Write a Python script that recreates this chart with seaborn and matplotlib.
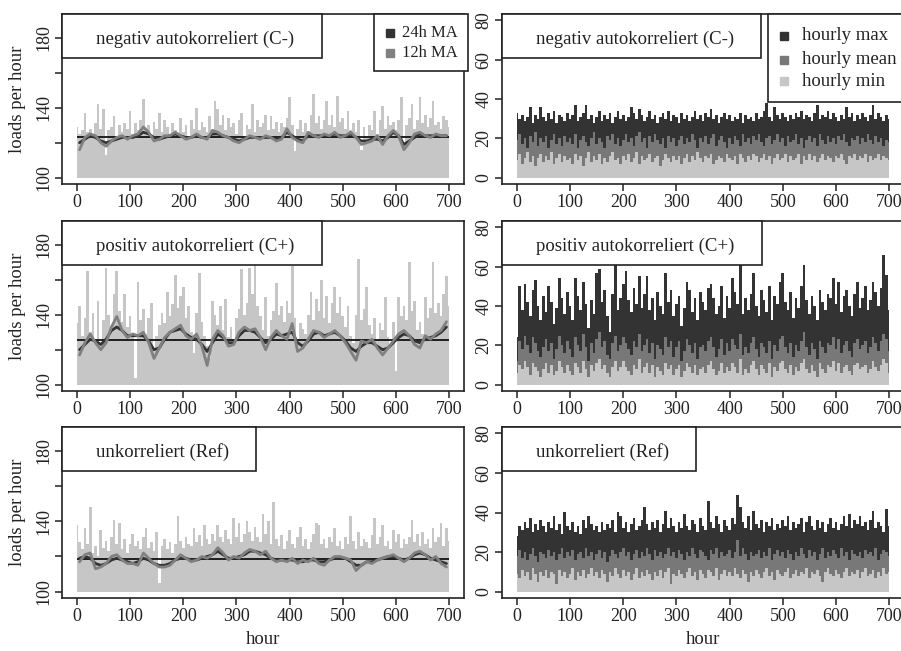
import numpy as np
import pandas as pd
import matplotlib
matplotlib.use("Agg")
import matplotlib.pyplot as plt
import seaborn as sns
from matplotlib.patches import Rectangle
from matplotlib.lines import Line2D

sns.set_style("ticks")
plt.rcParams['font.family'] = ['Liberation Serif', 'DejaVu Serif']

# hour grid of the sampled values (every 5 h) and of the moving averages (every 10 h)
hours = np.arange(0, 701, 5)
ma_hours = np.arange(5, 700, 10)

titles = ["negativ autokorreliert (C-)", "positiv autokorreliert (C+)", "unkorreliert (Ref)"]

# ---- left column: loads per hour, 24h / 12h moving averages, overall mean ----
load_cneg = [129, 125, 127, 137, 126, 128, 124, 131, 142, 128,
             139, 113, 127, 129, 135, 124, 130, 126, 131, 128,
             138, 125, 131, 127, 133, 145, 126, 130, 124, 132,
             128, 137, 126, 133, 129, 125, 131, 127, 124, 134,
             126, 130, 122, 133, 128, 140, 127, 132, 129, 126,
             135, 128, 144, 139, 130, 136, 127, 134, 129, 131,
             125, 133, 137, 124, 130, 128, 142, 126, 133, 129,
             131, 136, 127, 135, 128, 132, 126, 131, 129, 134,
             146, 130, 115, 128, 133, 126, 131, 124, 136, 148,
             131, 135, 128, 133, 144, 130, 136, 129, 147, 132,
             134, 128, 138, 127, 131, 126, 133, 116, 129, 124,
             130, 127, 138, 125, 133, 141, 128, 135, 130, 132,
             127, 133, 146, 120, 130, 134, 142, 128, 133, 146,
             131, 136, 129, 134, 144, 130, 132, 128, 135, 133,
             129]
load_cpos = [135, 145, 128, 138, 165, 130, 141, 126, 148, 124,
             137, 167, 140, 131, 152, 165, 142, 136, 152, 133,
             139, 128, 104, 159, 137, 143, 129, 138, 147, 121,
             128, 134, 141, 135, 153, 139, 146, 163, 144, 151,
             156, 138, 145, 130, 118, 141, 164, 136, 128, 122,
             115, 148, 140, 134, 145, 131, 149, 127, 133, 126,
             138, 143, 166, 140, 147, 167, 152, 170, 145, 139,
             131, 150, 128, 137, 142, 158, 140, 145, 136, 148,
             141, 168, 138, 126, 135, 132, 129, 140, 153, 137,
             149, 142, 160, 138, 151, 135, 147, 156, 141, 150,
             139, 133, 145, 128, 124, 140, 172, 137, 143, 156,
             134, 129, 138, 126, 135, 131, 150, 127, 122, 136,
             108, 150, 139, 145, 137, 170, 142, 148, 131, 136,
             129, 150, 138, 144, 170, 141, 147, 139, 152, 162,
             145]
load_ref = [138, 128, 124, 136, 127, 148, 122, 126, 120, 135,
            125, 129, 123, 131, 141, 127, 139, 124, 130, 122,
            127, 133, 126, 129, 124, 131, 136, 125, 128, 123,
            134, 105, 126, 130, 124, 128, 122, 127, 143, 129,
            125, 131, 127, 126, 136, 128, 132, 126, 138, 130,
            127, 133, 129, 138, 131, 128, 135, 130, 127, 142,
            131, 139, 128, 133, 140, 134, 129, 137, 131, 128,
            144, 133, 140, 127, 151, 130, 126, 132, 124, 129,
            135, 127, 125, 131, 137, 126, 130, 124, 128, 133,
            139, 138, 127, 130, 125, 131, 128, 136, 126, 129,
            124, 131, 127, 143, 129, 124, 134, 126, 130, 128,
            125, 132, 142, 127, 131, 138, 126, 129, 124, 135,
            128, 133, 125, 130, 127, 131, 141, 128, 133, 126,
            134, 127, 130, 125, 136, 128, 131, 139, 126, 136,
            129]

ma24_cneg = [120, 122, 124, 123, 121, 120, 121, 122, 123, 123,
             123, 124, 126, 125, 123, 122, 123, 124, 125, 124,
             123, 123, 124, 123, 123, 125, 125, 124, 123, 122,
             121, 122, 123, 123, 123, 123, 123, 122, 123, 126,
             124, 122, 121, 124, 124, 124, 124, 124, 125, 124,
             124, 125, 123, 121, 121, 122, 122, 121, 123, 126,
             124, 119, 121, 123, 125, 124, 124, 124, 124, 124]
ma12_cneg = [116, 123, 125, 124, 120, 118, 121, 123, 124, 122,
             124, 125, 129, 126, 121, 122, 124, 124, 126, 124,
             122, 123, 125, 123, 122, 127, 126, 124, 123, 121,
             120, 122, 124, 123, 122, 124, 123, 121, 122, 128,
             123, 121, 120, 126, 124, 123, 125, 124, 126, 123,
             124, 126, 123, 119, 120, 121, 124, 119, 124, 127,
             124, 116, 120, 125, 126, 124, 123, 125, 124, 124]
ma24_cpos = [120, 123, 126, 125, 123, 126, 131, 133, 131, 128,
             128, 128, 128, 125, 120, 121, 126, 130, 131, 132,
             129, 127, 126, 123, 119, 124, 129, 127, 124, 124,
             128, 131, 131, 130, 127, 124, 126, 129, 128, 129,
             130, 124, 122, 125, 129, 130, 128, 129, 130, 128,
             125, 121, 119, 122, 124, 124, 122, 120, 121, 124,
             127, 129, 128, 125, 124, 126, 127, 128, 130, 133]
ma12_cpos = [117, 124, 129, 124, 120, 124, 133, 139, 131, 127,
             129, 128, 130, 124, 115, 121, 127, 130, 132, 134,
             128, 126, 129, 122, 111, 126, 131, 128, 122, 123,
             130, 133, 131, 132, 127, 120, 127, 131, 128, 126,
             135, 119, 121, 126, 131, 130, 127, 129, 131, 128,
             124, 119, 114, 125, 124, 126, 121, 117, 121, 125,
             129, 131, 128, 123, 121, 128, 126, 129, 131, 136]
ma24_ref = [119, 120, 119, 116, 115, 116, 118, 119, 118, 117,
            116, 117, 119, 118, 116, 115, 115, 116, 118, 119,
            119, 118, 118, 119, 120, 121, 123, 121, 119, 119,
            120, 121, 123, 123, 122, 121, 119, 118, 118, 118,
            118, 117, 117, 118, 118, 117, 117, 118, 119, 119,
            119, 117, 115, 115, 117, 117, 118, 119, 120, 120,
            119, 118, 119, 121, 122, 121, 119, 118, 117, 116]
ma12_ref = [117, 121, 122, 113, 114, 116, 120, 121, 118, 116,
            116, 115, 122, 119, 116, 114, 114, 115, 118, 121,
            119, 117, 118, 120, 119, 121, 125, 122, 118, 120,
            119, 122, 124, 123, 121, 123, 119, 117, 118, 117,
            119, 116, 118, 117, 119, 116, 115, 118, 120, 120,
            119, 118, 112, 115, 117, 116, 118, 119, 120, 121,
            119, 117, 119, 122, 123, 121, 118, 120, 116, 114]

mean_load = [123.4, 125.8, 118.4]

# ---- right column: hourly max / mean / min ----
max_cneg = [33, 30, 32, 29, 31, 36, 28, 32, 30, 36,
            31, 29, 33, 30, 34, 28, 32, 31, 29, 33,
            30, 32, 37, 29, 31, 33, 37, 30, 32, 28,
            31, 34, 29, 32, 30, 33, 28, 31, 34, 30,
            32, 29, 31, 36, 33, 30, 35, 32, 29, 31,
            34, 30, 32, 28, 31, 33, 30, 34, 29, 32,
            31, 28, 33, 30, 32, 29, 31, 34, 30, 32,
            29, 33, 31, 35, 30, 32, 28, 31, 33, 30,
            32, 29, 31, 30, 33, 28, 32, 30, 31, 29,
            33, 30, 31, 34, 38, 31, 29, 36, 32, 30,
            33, 31, 29, 32, 30, 33, 31, 34, 30, 32,
            31, 29, 33, 37, 30, 32, 31, 34, 30, 33,
            31, 29, 32, 30, 36, 31, 33, 29, 32, 30,
            33, 31, 29, 32, 37, 30, 33, 31, 29, 32,
            30]
mean_cneg = [19, 22, 17, 20, 15, 21, 18, 23, 16, 20,
             18, 21, 15, 19, 22, 17, 20, 16, 21, 18,
             20, 17, 22, 15, 19, 21, 18, 16, 20, 23,
             17, 20, 18, 15, 21, 19, 22, 17, 20, 16,
             19, 22, 18, 20, 16, 21, 23, 18, 20, 15,
             21, 18, 22, 19, 17, 20, 15, 21, 18, 20,
             16, 19, 21, 17, 20, 18, 22, 19, 15, 20,
             18, 21, 17, 20, 22, 16, 19, 21, 18, 15,
             20, 17, 21, 19, 16, 22, 18, 20, 17, 21,
             19, 22, 18, 16, 20, 21, 17, 19, 22, 18,
             20, 16, 21, 18, 19, 22, 17, 20, 15, 19,
             21, 18, 20, 16, 22, 19, 17, 21, 18, 20,
             17, 21, 19, 22, 18, 16, 20, 19, 21, 17,
             20, 18, 22, 19, 17, 21, 18, 20, 16, 19,
             18]
min_cneg = [9, 12, 7, 10, 13, 8, 11, 6, 10, 12,
            8, 11, 9, 13, 7, 10, 12, 8, 11, 9,
            10, 7, 12, 9, 11, 6, 10, 13, 8, 11,
            9, 12, 7, 10, 8, 11, 13, 9, 10, 7,
            11, 9, 12, 8, 10, 13, 7, 11, 9, 10,
            12, 8, 10, 11, 6, 9, 12, 10, 8, 11,
            9, 11, 7, 10, 12, 8, 11, 9, 13, 10,
            8, 11, 10, 12, 7, 9, 11, 10, 8, 12,
            10, 9, 11, 7, 12, 10, 8, 11, 9, 12,
            11, 8, 10, 12, 9, 11, 7, 10, 12, 9,
            10, 12, 8, 11, 9, 10, 12, 7, 11, 9,
            12, 9, 11, 8, 10, 12, 9, 11, 10, 8,
            11, 10, 12, 9, 7, 11, 10, 12, 9, 11,
            10, 12, 8, 11, 9, 10, 12, 9, 11, 10,
            9]

max_cpos = [24, 50, 38, 51, 42, 35, 48, 53, 40, 33,
            45, 37, 50, 42, 31, 39, 54, 44, 36, 47,
            40, 33, 54, 45, 38, 52, 41, 29, 43, 36,
            57, 59, 42, 48, 35, 27, 46, 62, 38, 44,
            51, 58, 43, 37, 49, 41, 55, 39, 46, 55,
            38, 44, 33, 47, 40, 36, 57, 42, 48, 35,
            41, 45, 30, 39, 52, 48, 37, 44, 33, 47,
            42, 38, 49, 51, 44, 36, 40, 50, 34, 45,
            39, 54, 47, 41, 62, 36, 44, 38, 46, 57,
            40, 35, 48, 43, 37, 50, 33, 45, 41, 52,
            57, 42, 38, 47, 34, 44, 39, 50, 61, 43,
            36, 45, 40, 33, 48, 42, 38, 46, 44, 54,
            41, 52, 37, 45, 48, 40, 35, 46, 52, 39,
            44, 50, 38, 43, 52, 47, 40, 49, 66, 56,
            38]
mean_cpos = [12, 22, 18, 25, 20, 16, 24, 21, 17, 14,
             19, 23, 17, 21, 13, 18, 25, 20, 16, 22,
             18, 14, 24, 20, 17, 26, 19, 12, 21, 16,
             23, 27, 19, 22, 15, 13, 21, 25, 17, 20,
             24, 21, 18, 15, 22, 19, 26, 17, 20, 23,
             16, 21, 13, 20, 18, 15, 24, 19, 22, 14,
             19, 22, 12, 17, 23, 20, 16, 21, 13, 19,
             20, 17, 22, 24, 19, 14, 18, 23, 15, 21,
             17, 23, 20, 18, 26, 15, 19, 16, 21, 24,
             18, 14, 21, 19, 16, 22, 13, 20, 17, 23,
             25, 19, 16, 21, 14, 20, 17, 22, 27, 19,
             15, 21, 18, 13, 22, 19, 16, 21, 20, 24,
             18, 23, 16, 20, 22, 17, 14, 21, 23, 18,
             20, 22, 16, 19, 24, 21, 17, 22, 26, 23,
             17]
min_cpos = [6, 10, 8, 12, 9, 5, 11, 9, 7, 4,
            8, 11, 6, 10, 5, 7, 12, 9, 6, 10,
            7, 5, 11, 9, 6, 12, 8, 4, 10, 7,
            11, 13, 8, 10, 6, 4, 9, 12, 7, 9,
            12, 9, 7, 5, 10, 8, 13, 6, 9, 11,
            6, 10, 4, 9, 7, 5, 11, 8, 10, 5,
            8, 10, 4, 7, 11, 9, 6, 10, 5, 8,
            9, 6, 10, 12, 8, 5, 7, 11, 6, 9,
            7, 11, 9, 6, 13, 5, 8, 6, 10, 12,
            8, 5, 10, 8, 6, 11, 4, 9, 7, 11,
            12, 8, 6, 10, 5, 9, 7, 11, 13, 8,
            6, 10, 7, 4, 11, 8, 6, 10, 9, 12,
            7, 11, 6, 9, 10, 7, 5, 10, 11, 8,
            9, 10, 6, 8, 12, 9, 7, 10, 13, 11,
            6]

max_ref = [28, 33, 31, 35, 32, 37, 30, 34, 31, 36,
           33, 30, 35, 32, 38, 31, 34, 29, 40, 33,
           31, 35, 30, 33, 29, 36, 32, 38, 34, 31,
           33, 30, 35, 31, 34, 32, 36, 30, 40, 38,
           32, 35, 30, 34, 37, 31, 33, 36, 43, 34,
           31, 35, 32, 36, 30, 34, 41, 32, 37, 33,
           30, 35, 32, 39, 33, 31, 36, 34, 30, 37,
           33, 31, 46, 35, 32, 38, 34, 30, 36, 33,
           31, 37, 34, 49, 43, 35, 32, 38, 31, 41,
           34, 32, 36, 30, 35, 33, 37, 31, 34, 32,
           36, 33, 38, 31, 35, 32, 34, 37, 30, 35,
           38, 33, 31, 36, 32, 35, 30, 34, 37, 32,
           35, 31, 34, 38, 33, 39, 32, 36, 34, 38,
           33, 35, 31, 36, 41, 32, 35, 33, 30, 42,
           33]
mean_ref = [18, 21, 17, 20, 16, 19, 22, 18, 15, 20,
            19, 17, 21, 18, 20, 16, 19, 22, 17, 20,
            18, 21, 16, 19, 20, 17, 22, 18, 20, 16,
            19, 21, 17, 20, 15, 18, 21, 19, 17, 20,
            22, 18, 20, 16, 19, 21, 17, 20, 18, 22,
            19, 16, 21, 18, 20, 17, 19, 22, 18, 20,
            17, 21, 19, 16, 20, 18, 22, 19, 17, 21,
            20, 18, 16, 21, 19, 22, 17, 20, 18, 19,
            21, 17, 20, 26, 18, 22, 19, 16, 20, 18,
            19, 21, 17, 20, 18, 22, 16, 19, 21, 18,
            20, 17, 21, 19, 16, 20, 18, 22, 19, 17,
            21, 18, 20, 16, 19, 22, 17, 20, 18, 21,
            19, 17, 22, 18, 20, 16, 21, 19, 18, 20,
            17, 21, 19, 20, 18, 22, 16, 19, 21, 20,
            18]
min_ref = [9, 7, 11, 8, 10, 6, 12, 9, 5, 10,
           8, 11, 7, 10, 9, 4, 11, 8, 10, 7,
           9, 12, 6, 10, 8, 11, 7, 9, 12, 8,
           10, 7, 11, 9, 5, 10, 8, 12, 9, 7,
           11, 8, 10, 6, 9, 12, 7, 10, 8, 11,
           9, 6, 10, 8, 11, 7, 10, 12, 4, 9,
           8, 11, 9, 7, 10, 12, 8, 10, 6, 11,
           9, 7, 11, 10, 8, 12, 6, 9, 11, 8,
           10, 8, 12, 9, 7, 11, 9, 5, 10, 8,
           11, 9, 7, 10, 12, 8, 10, 6, 11, 9,
           8, 10, 12, 7, 9, 11, 8, 10, 9, 12,
           7, 10, 9, 11, 8, 5, 10, 12, 9, 8,
           11, 9, 7, 10, 12, 8, 10, 9, 11, 7,
           10, 12, 8, 9, 11, 7, 10, 8, 12, 9,
           10]

LIGHT, MID, DARK = '#c6c6c6', '#787878', '#333333'
W, H = 901, 651

fig = plt.figure(figsize=(W / 100, H / 100), dpi=100)

row_top = [14, 221, 427]
row_bot = [184, 391, 598]
col_x = [(62, 464), (502, 904)]
title_w = [[260, 260, 194], [259, 260, 194]]


def make_axes(col, row):
    x0, x1 = col_x[col]
    return fig.add_axes([x0 / W, 1 - row_bot[row] / H, (x1 - x0) / W,
                         (row_bot[row] - row_top[row]) / H])


def to_ax(col, row, x, y):
    # pixel position in the figure -> axes fraction
    x0, x1 = col_x[col]
    return ((x - x0) / (x1 - x0),
            (row_bot[row] - y) / (row_bot[row] - row_top[row]))


def style(ax):
    for s in ax.spines.values():
        s.set_linewidth(1.2)
        s.set_color('#222222')
    ax.tick_params(direction='out', length=5, width=1.1, labelsize=13,
                   pad=2, colors='#222222')
    ax.set_xlim(-28, 728)
    ax.set_xticks(range(0, 701, 100))
    plt.setp(ax.get_yticklabels(), rotation=90, va='center')
    ax.set_xlabel('')
    ax.set_ylabel('')


def title_box(ax, col, row, text):
    x0 = col_x[col][0]
    top = row_top[row]
    bx, by = to_ax(col, row, x0, top + 44)
    bw = title_w[col][row] / (col_x[col][1] - x0)
    ax.add_patch(Rectangle((bx, by), bw, 1 - by, transform=ax.transAxes,
                           facecolor='white', edgecolor='#222222', lw=1.2,
                           zorder=10, clip_on=False))
    tx, ty = to_ax(col, row, x0 + 34, top + 25)
    ax.text(tx, ty, text, transform=ax.transAxes, fontsize=13.5,
            va='center', ha='left', zorder=11, color='#222222')


def legend_box(ax, col, row, left, bottom, mark_x, text_x, ys, labels,
               colors, fs):
    bx, by = to_ax(col, row, left, bottom)
    ax.add_patch(Rectangle((bx, by), 1 - bx + 0.01, 1 - by,
                           transform=ax.transAxes, facecolor='white',
                           edgecolor='#222222', lw=1.2, zorder=10,
                           clip_on=False))
    for y, lab, c in zip(ys, labels, colors):
        mx, my = to_ax(col, row, mark_x, y)
        ax.add_line(Line2D([mx], [my], marker='s', ms=6, color=c, ls='',
                           transform=ax.transAxes, zorder=11,
                           clip_on=False))
        lx, _ = to_ax(col, row, text_x, y)
        ax.text(lx, my, lab, transform=ax.transAxes, fontsize=fs,
                va='center', ha='left', zorder=11, color='#222222')


left_sets = [(load_cneg, ma24_cneg, ma12_cneg), (load_cpos, ma24_cpos, ma12_cpos),
             (load_ref, ma24_ref, ma12_ref)]
right_sets = [(max_cneg, mean_cneg, min_cneg), (max_cpos, mean_cpos, min_cpos),
              (max_ref, mean_ref, min_ref)]

for row in range(3):
    # left panel
    ax = make_axes(0, row)
    load, ma24, ma12 = left_sets[row]
    ax.fill_between(hours, 100, load, color=LIGHT, lw=0, step='mid', zorder=1)
    ax.hlines(mean_load[row], 0, 700, color='#111111', lw=1.3, zorder=2)
    ma = pd.DataFrame({'hour': ma_hours, 'ma24': ma24, 'ma12': ma12})
    sns.lineplot(data=ma, x='hour', y='ma24', ax=ax, color=DARK, lw=2.0,
                 zorder=3)
    sns.lineplot(data=ma, x='hour', y='ma12', ax=ax, color='#808080', lw=2.0,
                 zorder=4)
    ax.set_ylim(96.4, 193.6)
    ax.set_yticks([100, 120, 140, 160, 180])
    ax.set_yticklabels(['100', '', '140', '', '180'])
    style(ax)
    title_box(ax, 0, row, titles[row])
    if row == 0:
        legend_box(ax, 0, 0, 374, 71, 390, 402, [33, 53],
                   ['24h MA', '12h MA'], [DARK, '#808080'], 12)
    fig.text(18 / W, 1 - (row_top[row] + row_bot[row]) / 2 / H,
             'loads per hour', rotation=90, ha='center', va='center',
             fontsize=13.5, color='#222222')

    # right panel
    ax = make_axes(1, row)
    mx, mn, lo = right_sets[row]
    ax.fill_between(hours, 0, mx, color=DARK, lw=0, step='mid', zorder=1)
    ax.fill_between(hours, 0, mn, color=MID, lw=0, step='mid', zorder=2)
    ax.fill_between(hours, 0, lo, color=LIGHT, lw=0, step='mid', zorder=3)
    ax.set_ylim(-3.2, 83.2)
    ax.set_yticks([0, 20, 40, 60, 80])
    style(ax)
    title_box(ax, 1, row, titles[row])
    if row == 0:
        legend_box(ax, 1, 0, 768, 102, 784, 802, [36, 60, 81],
                   ['hourly max', 'hourly mean', 'hourly min'],
                   [DARK, MID, LIGHT], 13.5)

for x0, x1 in col_x:
    fig.text((x0 + x1) / 2 / W, 1 - 640 / H, 'hour', ha='center',
             va='center', fontsize=13.5, color='#222222')

fig.savefig('out.png', dpi=100)
